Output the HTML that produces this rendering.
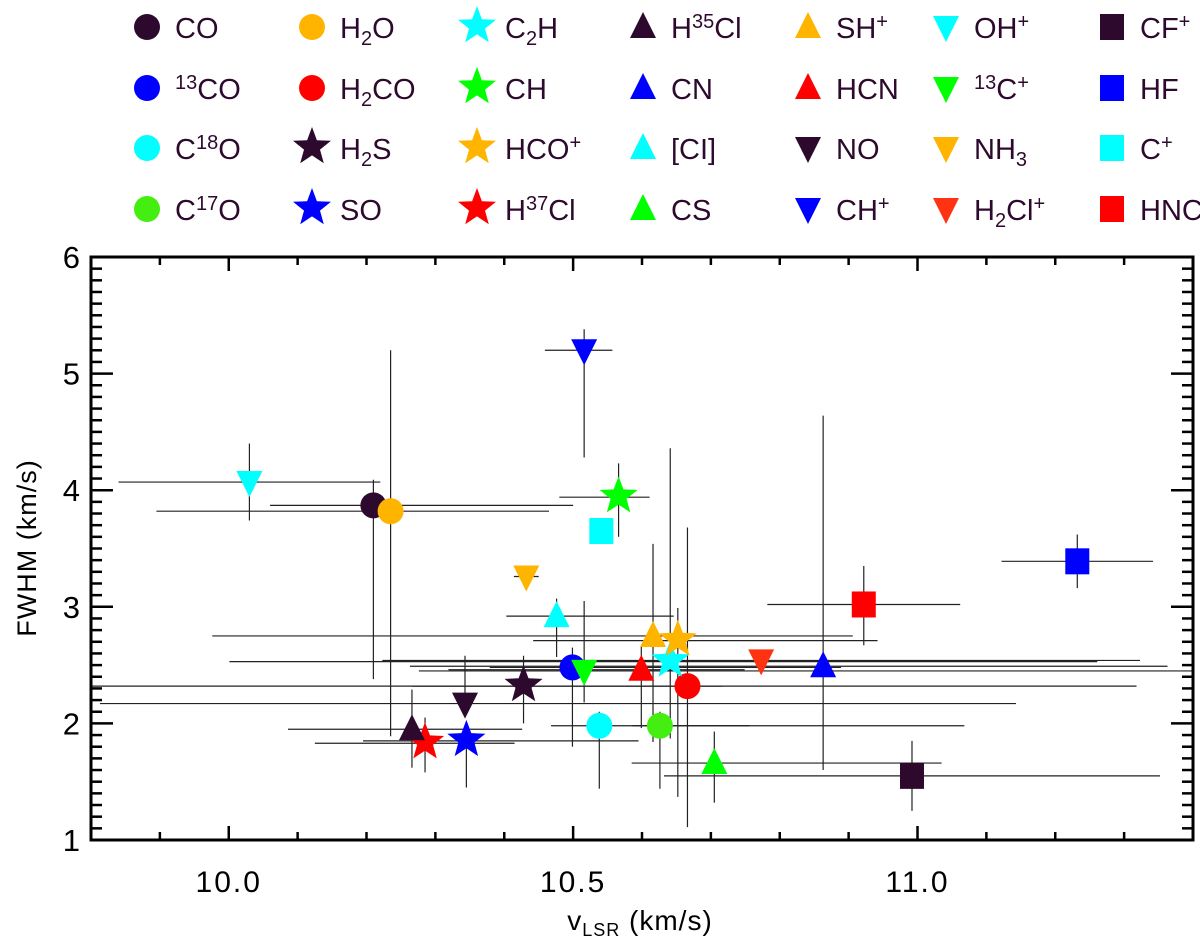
<!DOCTYPE html>
<html><head><meta charset="utf-8">
<style>
html,body{margin:0;padding:0;background:#fff;}
svg{display:block;font-family:"Liberation Sans","DejaVu Sans",sans-serif;}
</style></head>
<body>
<svg id="chart" width="1200" height="942" viewBox="0 0 1200 942" xmlns="http://www.w3.org/2000/svg">
<g id="legend"></g>
<g id="errs"></g>
<g id="marks"></g>
<g id="axes"></g>
<text x="0" y="0" transform="translate(36,548) rotate(-90)" text-anchor="middle" font-size="27" letter-spacing="1" fill="#000">FWHM (km/s)</text>
<text x="640" y="930" text-anchor="middle" font-size="28" letter-spacing="1" fill="#000">v<tspan font-size="18" dy="6">LSR</tspan><tspan dy="-6"> (km/s)</tspan></text>
</svg>
<script>
const species = ["CO","13CO","C18O","C17O","H2O","H2CO","H2S","SO","C2H","CH","HCO+","H37Cl","H35Cl","CN","[CI]","CS","SH+","HCN","NO","CH+","OH+","13C+","NH3","H2Cl+","CF+","HF","C+","HNC"];
const vlsr = [10.21,10.499,10.538,10.626,10.235,10.666,10.428,10.345,10.641,10.566,10.652,10.285,10.266,10.863,10.476,10.705,10.616,10.599,10.343,10.516,10.03,10.516,10.432,10.773,10.992,11.232,10.541,10.922];
const fwhm = [3.87,2.48,1.98,1.98,3.82,2.32,2.32,1.85,2.53,3.94,2.71,1.83,1.95,2.49,2.92,1.66,2.75,2.46,2.17,5.2,4.07,2.45,3.26,2.54,1.55,3.39,3.65,3.02];
const xErrLo = [0.15,0.12,0.07,0.04,0.34,0.40,0.63,0.15,0.64,0.086,0.21,0.16,0.18,0.60,0.073,0.12,0.64,0.28,0.53,0.057,0.19,0.24,0.018,0.55,0.36,0.11,0,0.14];
const xErrHi = [0.29,0.39,0.53,0.13,0.23,0.05,0.89,0.25,0.62,0.045,0.29,0.13,0.16,0.50,0.17,0.33,0.29,0.15,0.80,0.041,0.19,0.90,0.018,0.55,0.36,0.11,0,0.14];
const yErrLo = [1.49,0.68,0.54,0.54,1.93,1.21,0.32,0.40,0.66,0.34,1.34,0.25,0.33,0.89,0.35,0.34,0.91,0.50,0,0.92,0.33,0.27,0,0,0.30,0.23,0,0.35];
const yErrHi = [0.22,0.17,0.12,0.12,1.38,1.36,0.26,0.12,1.83,0.29,0.28,0.22,0.34,2.15,0.15,0.27,0.79,0.20,0.41,0.18,0.33,0.60,0,0,0.30,0.23,0,0.33];
const symbols = ["circle","circle","circle","circle","circle","circle","star","star","star","star","star","star","up","up","up","up","up","up","down","down","down","down","down","down","square","square","square","square"];
const colors = ["#2d0a2d","#0000ff","#00ffff","#44ee11","#ffb400","#ff0000","#2d0a2d","#0000ff","#00ffff","#00ff00","#ffb400","#ff0000","#2d0a2d","#0000ff","#00ffff","#00ff00","#ffb400","#ff0000","#2d0a2d","#0000ff","#00ffff","#00ff00","#ffb400","#ff3311","#2d0a2d","#0000ff","#00ffff","#ff0000"];
const labelsHTML = ["CO","<tspan font-size='20' dy='-10'>13</tspan><tspan dy='10'>CO</tspan>","C<tspan font-size='20' dy='-10'>18</tspan><tspan dy='10'>O</tspan>","C<tspan font-size='20' dy='-10'>17</tspan><tspan dy='10'>O</tspan>",
"H<tspan font-size='20' dy='7'>2</tspan><tspan dy='-7'>O</tspan>","H<tspan font-size='20' dy='7'>2</tspan><tspan dy='-7'>CO</tspan>","H<tspan font-size='20' dy='7'>2</tspan><tspan dy='-7'>S</tspan>","SO",
"C<tspan font-size='20' dy='7'>2</tspan><tspan dy='-7'>H</tspan>","CH","HCO<tspan font-size='20' dy='-10'>+</tspan>","H<tspan font-size='20' dy='-10'>37</tspan><tspan dy='10'>Cl</tspan>",
"H<tspan font-size='20' dy='-10'>35</tspan><tspan dy='10'>Cl</tspan>","CN","[CI]","CS",
"SH<tspan font-size='20' dy='-10'>+</tspan>","HCN","NO","CH<tspan font-size='20' dy='-10'>+</tspan>",
"OH<tspan font-size='20' dy='-10'>+</tspan>","<tspan font-size='20' dy='-10'>13</tspan><tspan dy='10'>C</tspan><tspan font-size='20' dy='-10'>+</tspan>","NH<tspan font-size='20' dy='7'>3</tspan>","H<tspan font-size='20' dy='7'>2</tspan><tspan dy='-7'>Cl</tspan><tspan font-size='20' dy='-10'>+</tspan>",
"CF<tspan font-size='20' dy='-10'>+</tspan>","HF","C<tspan font-size='20' dy='-10'>+</tspan>","HNC"];
const xTicks = [10.0,10.5,11.0];
const xTickLabels = ["10.0","10.5","11.0"];
const yTicks = [1,2,3,4,5,6];

const NS="http://www.w3.org/2000/svg";
const L=91,R=1193,T=257,B=840, XMIN=9.8,XMAX=11.4,YMIN=1,YMAX=6;
const xs=v=>L+(v-XMIN)/(XMAX-XMIN)*(R-L);
const ys=f=>B-(f-YMIN)/(YMAX-YMIN)*(B-T);
const clampX=x=>Math.max(L,Math.min(R,x)), clampY=y=>Math.max(T,Math.min(B,y));
function mk(tag,attrs,parent){const e=document.createElementNS(NS,tag);for(const k in attrs)e.setAttribute(k,attrs[k]);parent.appendChild(e);return e;}
function starPts(cx,cy,r){let p=[];for(let i=0;i<10;i++){const a=-Math.PI/2+i*Math.PI/5;const rr=i%2?r*0.42:r;p.push((cx+rr*Math.cos(a)).toFixed(1)+","+(cy+rr*Math.sin(a)).toFixed(1));}return p.join(" ");}
function marker(sym,cx,cy,col,parent){
  let e;
  if(sym==="circle") e=mk("circle",{cx:cx,cy:cy,r:13,fill:col},parent);
  else if(sym==="square") e=mk("rect",{x:cx-12,y:cy-13,width:24,height:26,fill:col},parent);
  else if(sym==="up") e=mk("polygon",{points:`${cx},${cy-15} ${cx+13},${cy+11} ${cx-13},${cy+11}`,fill:col},parent);
  else if(sym==="down") e=mk("polygon",{points:`${cx-13},${cy-11} ${cx+13},${cy-11} ${cx},${cy+15}`,fill:col},parent);
  else e=mk("polygon",{points:starPts(cx,cy-1,20),fill:col},parent);
  return e;
}
const errG=document.getElementById("errs"), markG=document.getElementById("marks"), axG=document.getElementById("axes"), legG=document.getElementById("legend");
for(let i=0;i<species.length;i++){
  const cx=xs(vlsr[i]), cy=ys(fwhm[i]);
  if(xErrLo[i]+xErrHi[i]>0){
    const h=mk("line",{x1:clampX(xs(vlsr[i]-xErrLo[i])),x2:clampX(xs(vlsr[i]+xErrHi[i])),y1:cy,y2:cy,stroke:"#222","stroke-width":1.2},errG);
    
    
  }
  if(yErrLo[i]+yErrHi[i]>0){
    const v=mk("line",{x1:cx,x2:cx,y1:clampY(ys(fwhm[i]+yErrHi[i])),y2:clampY(ys(fwhm[i]-yErrLo[i])),stroke:"#222","stroke-width":1.2},errG);
    
    
  }
  const m=marker(symbols[i],cx,cy,colors[i],markG);
  
  
}
const colX=[147,312,477,643,808,946,1112], rowY=[27,88,148,209];
for(let i=0;i<species.length;i++){
  const c=Math.floor(i/4), r=i%4;
  const mx=colX[c], my=rowY[r];
  const m=marker(symbols[i],mx,my,colors[i],legG);
  
  
  const t=mk("text",{x:mx+28,y:my+11,"font-size":29,fill:"#2d0a2d"},legG);
  t.innerHTML=labelsHTML[i];
  
  
}
const fr=mk("rect",{x:L,y:T,width:R-L,height:B-T,fill:"none",stroke:"#000","stroke-width":3},axG);


for(let k=0;k<=16;k++){
  const v=XMIN+k*0.1, x=xs(v), major=(k%5===2);
  const len=major?14:8;
  mk("line",{x1:x,x2:x,y1:B,y2:B-len,stroke:"#000","stroke-width":2.5},axG);
  mk("line",{x1:x,x2:x,y1:T,y2:T+len,stroke:"#000","stroke-width":2.5},axG);
}
xTicks.forEach((v,i)=>{
  const t=mk("text",{x:xs(v),y:B+52,"text-anchor":"middle","font-size":30,"letter-spacing":2,fill:"#000"},axG);
  t.textContent=xTickLabels[i];
  
  
});
for(let k=0;k<=50;k++){
  const f=YMIN+k*0.1, y=ys(f), major=k%10===0;
  const len=major?22:11;
  mk("line",{x1:L,x2:L+len,y1:y,y2:y,stroke:"#000","stroke-width":2.5},axG);
  mk("line",{x1:R,x2:R-len,y1:y,y2:y,stroke:"#000","stroke-width":2.5},axG);
}
yTicks.forEach(v=>{
  const t=mk("text",{x:80,y:ys(v)+11,"text-anchor":"end","font-size":31,fill:"#000"},axG);
  t.textContent=String(v);
  
  
});
</script>
</body></html>
